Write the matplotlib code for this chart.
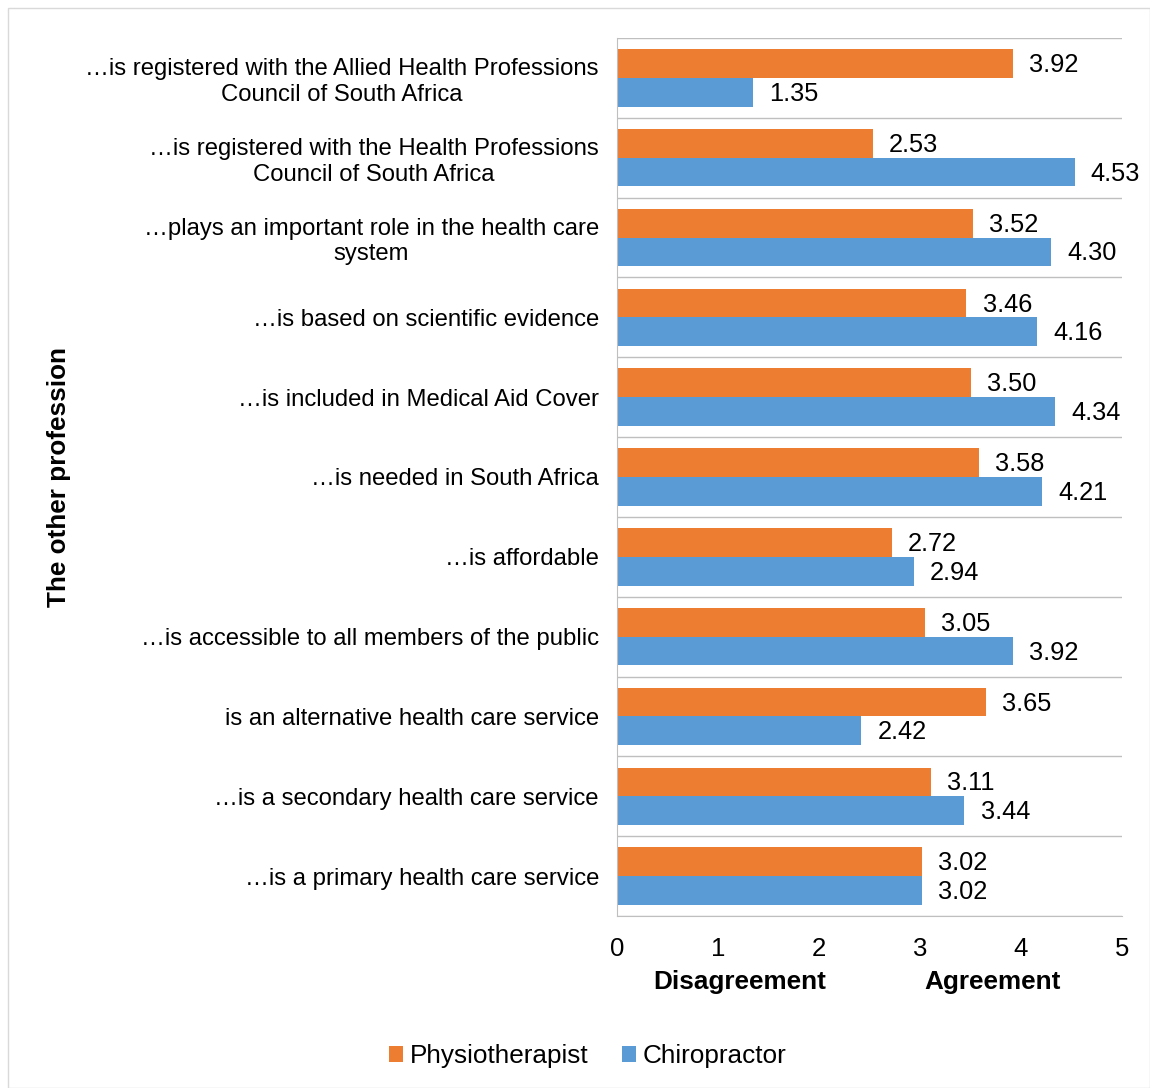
import numpy as np
import matplotlib.pyplot as plt
from matplotlib.patches import Rectangle

plt.rcParams['font.family'] = ['Liberation Sans', 'DejaVu Sans']

categories = [
    "\u2026is registered with the Allied Health Professions\nCouncil of South Africa",
    "\u2026is registered with the Health Professions\nCouncil of South Africa",
    "\u2026plays an important role in the health care\nsystem",
    "\u2026is based on scientific evidence",
    "\u2026is included in Medical Aid Cover",
    "\u2026is needed in South Africa",
    "\u2026is affordable",
    "\u2026is accessible to all members of the public",
    "is an alternative health care service",
    "\u2026is a secondary health care service",
    "\u2026is a primary health care service",
]
physio = [3.92, 2.53, 3.52, 3.46, 3.50, 3.58, 2.72, 3.05, 3.65, 3.11, 3.02]
chiro = [1.35, 4.53, 4.30, 4.16, 4.34, 4.21, 2.94, 3.92, 2.42, 3.44, 3.02]

orange = '#ed7d31'
blue = '#5b9bd5'

fig = plt.figure(figsize=(11.5, 10.88), dpi=100)
fig.patches.append(Rectangle((0.007, 0.0), 0.993, 0.993, transform=fig.transFigure,
                             fill=False, edgecolor='#d9d9d9', linewidth=1))
ax = fig.add_axes([0.5365, 0.1581, 0.4392, 0.807])

y = np.arange(len(categories))
h = 0.36
ax.barh(y - h / 2, physio, height=h, color=orange, label='Physiotherapist')
ax.barh(y + h / 2, chiro, height=h, color=blue, label='Chiropractor')

# value labels right of each bar
for yi, v in zip(y, physio):
    ax.text(v + 0.16, yi - h / 2 + 0.02, f"{v:.2f}", va='center', ha='left', fontsize=18.3)
for yi, v in zip(y, chiro):
    ax.text(v + 0.16, yi + h / 2 + 0.02, f"{v:.2f}", va='center', ha='left', fontsize=18.3)

ax.set_xlim(0, 5)
ax.set_ylim(len(categories) - 0.5, -0.5)
ax.set_xticks(range(6))
ax.tick_params(axis='x', labelsize=18.5, length=0, pad=15)
ax.set_yticks(y)
ax.set_yticklabels(categories, fontsize=17.2, multialignment='center')
ax.tick_params(axis='y', length=0, pad=13)

# separators between categories
ax.set_yticks(np.arange(-0.5, len(categories), 1), minor=True)
ax.tick_params(axis='y', which='minor', length=0)
ax.grid(True, axis='y', which='minor', color='#bfbfbf', linewidth=1)
ax.set_axisbelow(True)

for s in ['top', 'right']:
    ax.spines[s].set_visible(False)
for s in ['left', 'bottom']:
    ax.spines[s].set_color('#bfbfbf')

fig.text(0.051, 0.5615, 'The other profession', rotation=90, fontsize=18.8,
         fontweight='bold', ha='center', va='center')

fig.text(0.6435, 0.097, 'Disagreement', fontsize=18.8, fontweight='bold', ha='center', va='center')
fig.text(0.8635, 0.097, 'Agreement', fontsize=18.8, fontweight='bold', ha='center', va='center')

fig.legend(loc='center', bbox_to_anchor=(0.511, 0.029), ncol=2, frameon=False,
           fontsize=18.8, handlelength=0.55, handleheight=0.55, handletextpad=0.25,
           columnspacing=1.3)

fig.savefig('out.png', dpi=100)
